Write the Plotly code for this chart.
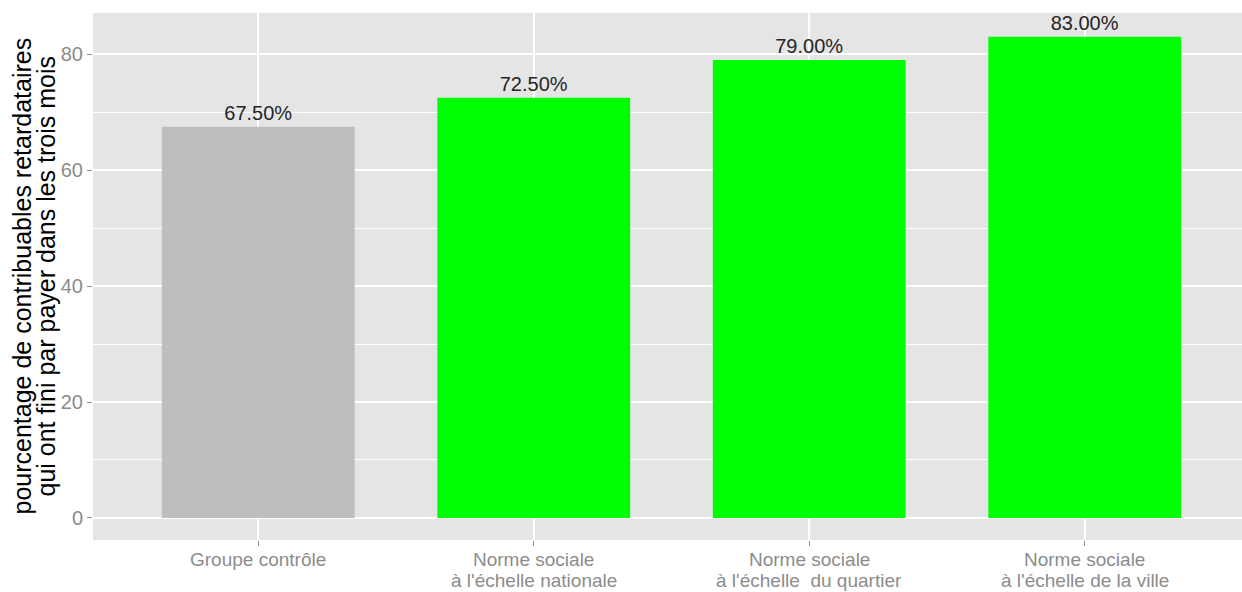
import plotly.graph_objects as go

categories = ["Groupe contrôle",
              "Norme sociale à l'échelle nationale",
              "Norme sociale à l'échelle  du quartier",
              "Norme sociale à l'échelle de la ville"]
tick_line1 = ["Groupe contrôle", "Norme sociale", "Norme sociale", "Norme sociale"]
tick_line2 = ["", "à l'échelle nationale", "à l'échelle\u00a0\u00a0du quartier", "à l'échelle de la ville"]
values = [67.5, 72.5, 79.0, 83.0]
labels = ["67.50%", "72.50%", "79.00%", "83.00%"]
colors = ["#BEBEBE", "#00FF00", "#00FF00", "#00FF00"]
y_ticks = [0, 20, 40, 60, 80]
y_title = ["pourcentage de contribuables retardataires",
           "qui ont fini par payer dans les trois mois"]

FONT = "Liberation Sans, Arial, sans-serif"
TICK_COLOR = "#8C8C8C"

fig = go.Figure()
fig.add_trace(go.Bar(
    x=categories, y=values, marker=dict(color=colors, line=dict(width=0)),
    width=0.7, text=labels, textposition="outside", cliponaxis=False,
    textfont=dict(family=FONT, size=20, color="#262626"),
    hoverinfo="skip",
))

annotations = []
for cat, l1, l2 in zip(categories, tick_line1, tick_line2):
    annotations.append(dict(x=cat, xref="x", y=0, yref="paper", yanchor="middle",
                            yshift=-19, text=l1, showarrow=False, borderpad=0,
                            font=dict(family=FONT, size=19, color=TICK_COLOR)))
    if l2:
        annotations.append(dict(x=cat, xref="x", y=0, yref="paper", yanchor="middle",
                                yshift=-40, text=l2, showarrow=False, borderpad=0,
                                font=dict(family=FONT, size=19, color=TICK_COLOR)))
for i, line in enumerate(y_title):
    annotations.append(dict(x=0, xref="paper", xanchor="center", xshift=[-72, -48][i],
                            y=0.5, yref="paper", yanchor="middle", textangle=-90,
                            text=line, showarrow=False, borderpad=0,
                            font=dict(family=FONT, size=25, color="black")))

fig.update_layout(
    width=1242, height=592,
    margin=dict(l=93, r=0, t=13, b=52),
    paper_bgcolor="white", plot_bgcolor="#E5E5E5",
    showlegend=False,
    font=dict(family=FONT),
    bargap=0.3,
    annotations=annotations,
)
fig.update_xaxes(
    range=[-0.6, 3.571], showgrid=True, gridcolor="white", gridwidth=1.5,
    ticks="outside", ticklen=5, tickwidth=1, tickcolor=TICK_COLOR,
    showticklabels=False,
    zeroline=False, showline=False,
)
fig.update_yaxes(
    range=[-3.8, 87.1], tickvals=y_ticks, showgrid=True, gridcolor="white", gridwidth=1.5,
    minor=dict(tickvals=[10, 30, 50, 70], showgrid=True, gridcolor="white", gridwidth=0.7, ticks=""),
    ticks="outside", ticklen=5, tickwidth=1, tickcolor=TICK_COLOR,
    tickfont=dict(family=FONT, size=20, color=TICK_COLOR),
    zeroline=False, showline=False,
)

fig.write_html("out.html")
